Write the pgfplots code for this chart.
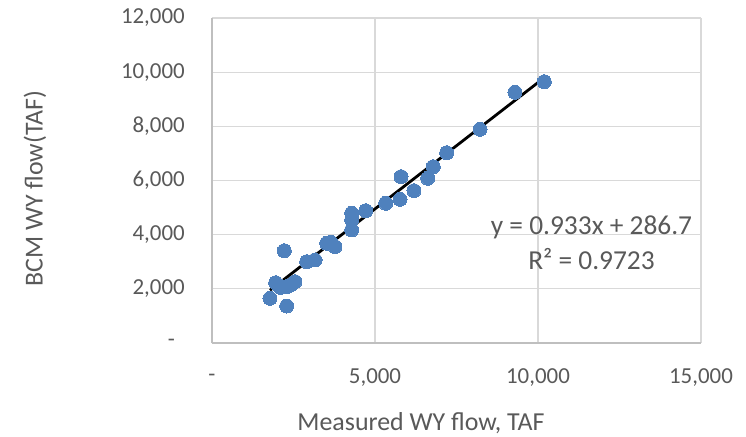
\documentclass[border=0pt]{standalone}
\usepackage{pgfplots}
\pgfplotsset{compat=1.18}
\usepackage{fontspec}
\setmainfont{Carlito}
\definecolor{txt}{HTML}{595959}
\definecolor{gridc}{HTML}{D9D9D9}
\definecolor{framec}{HTML}{BFBFBF}
\definecolor{dot}{HTML}{4F81BD}

\begin{document}
\begin{tikzpicture}
\path[use as bounding box] (-212bp,-94bp) rectangle (534bp,343bp);
\begin{axis}[
    at={(0,0)}, anchor=south west,
    scale only axis, width=489bp, height=325bp,
    xmin=0, xmax=15000, ymin=0, ymax=12000,
    scaled ticks=false,
    axis x line*=bottom, axis y line*=left,
    axis line style={-, draw=framec, line width=1.3bp},
    grid=major,
    major grid style={draw=gridc, line width=1.3bp},
    major tick length=0pt,
    xtick={0,5000,10000,15000},
    xticklabels={-,{5,000},{10,000},{15,000}},
    ytick={0,2000,4000,6000,8000,10000,12000},
    yticklabels={{-\kern10bp},{2,000},{4,000},{6,000},{8,000},{10,000},{12,000}},
    /pgf/number format/assume math mode=true,
    tick label style={text=txt, font=\fontsize{23}{27}\selectfont},
    xticklabel style={anchor=center, yshift=-35bp},
    yticklabel style={anchor=east, inner sep=0pt, xshift=-27bp},
    xlabel={Measured WY flow, TAF},
    ylabel={BCM WY flow(TAF)},
    label style={text=txt, font=\fontsize{26}{30}\selectfont},
    xlabel style={at={(axis description cs:0.4274,0)}, anchor=base, yshift=-87bp},
    ylabel style={at={(axis description cs:-0.362,0.475)}, anchor=center},
    clip=false,
]
\addplot[only marks, color=dot, mark=*, mark size=7bp, mark options={fill=dot, draw=dot, line width=0pt}] coordinates {
 (1779,1651) (1954,2227) (2218,3408) (2291,1366) (2100,2050) (2291,2079)
 (2420,2150) (2546,2264) (2905,3002) (3160,3065) (3518,3682) (3650,3720)
 (3773,3556) (4285,4790) (4285,4542) (4285,4173) (4715,4885) (5328,5159)
 (5798,6141) (5767,5307) (6196,5624) (6617,6082) (6788,6510) (7199,7027)
 (8221,7891) (9294,9258) (10193,9649)
};
\addplot[black, line width=2.8bp] coordinates {(1779,1946.5) (10193,9796.8)};
\node[anchor=base, text=txt, font=\fontsize{27.5}{32}\selectfont] at (axis cs:11641,4014) {y = 0.933x + 286.7};
\node[anchor=base, text=txt, font=\fontsize{27.5}{32}\selectfont] at (axis cs:11641,2696) {R² = 0.9723};
\end{axis}
\end{tikzpicture}
\end{document}
